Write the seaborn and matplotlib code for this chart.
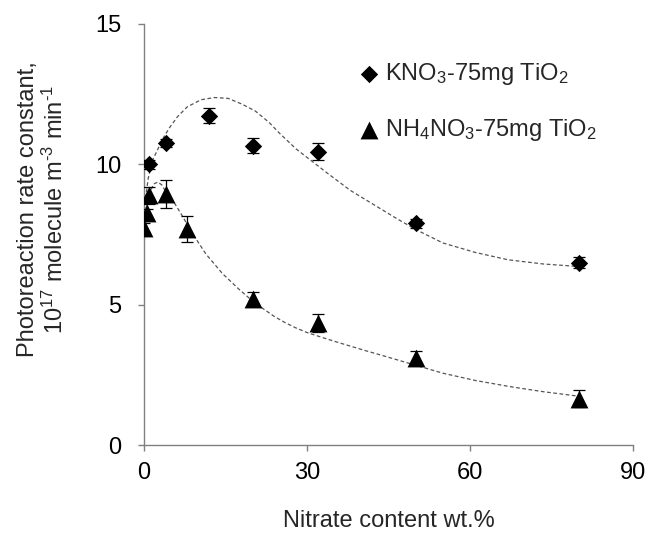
import numpy as np
import pandas as pd
import seaborn as sns
import matplotlib.pyplot as plt

# measured points (nitrate wt.%, rate constant, error)
kno3_x = [1, 4, 12, 20, 32, 50, 80]
kno3_y = [10.0, 10.75, 11.73, 10.67, 10.45, 7.9, 6.5]
kno3_err = [0.15, 0.15, 0.27, 0.28, 0.31, 0.15, 0.2]

nh4_x = [0, 0.5, 1, 4, 8, 20, 32, 50, 80]
nh4_y = [7.75, 8.25, 8.9, 8.96, 7.7, 5.2, 4.35, 3.1, 1.65]
nh4_err = [0.15, 0.15, 0.3, 0.5, 0.46, 0.26, 0.33, 0.24, 0.3]

# fitted curves
kno3_fit_x = [0, 0.4, 0.8, 1.6, 2.6, 3.6, 4.7, 6.2, 8, 10.5, 13, 15.5, 18, 20.5,
              23, 25, 28, 31, 34, 38, 42.5, 46.5, 50, 55, 61, 67, 73.5, 80]
kno3_fit_y = [7.9, 8.9, 9.5, 10.15, 10.55, 10.95, 11.3, 11.7, 12.05, 12.3, 12.38,
              12.35, 12.15, 11.9, 11.5, 11.1, 10.55, 10.1, 9.65, 9.07, 8.54, 8.07,
              7.68, 7.2, 6.86, 6.6, 6.45, 6.36]

nh4_fit_x = [0, 0.5, 1, 1.8, 2.6, 3.4, 4.2, 5.7, 7.2, 9, 11.4, 14.5, 17.5, 20, 22,
             24, 26, 28, 30, 33, 36, 41, 43, 49, 55, 61, 67.4, 73.5, 80]
nh4_fit_y = [7.8, 8.5, 8.95, 9.3, 9.37, 9.25, 8.95, 8.6, 8.12, 7.52, 6.81, 6.1,
             5.55, 5.13, 4.85, 4.58, 4.36, 4.17, 4.01, 3.82, 3.64, 3.35, 3.24,
             2.9, 2.56, 2.3, 2.08, 1.9, 1.74]

x_ticks = [0, 30, 60, 90]
y_ticks = [0, 5, 10, 15]

sns.set_theme(style='ticks')
plt.rcParams['font.family'] = ['Liberation Sans', 'DejaVu Sans']
plt.rcParams['mathtext.fontset'] = 'custom'
plt.rcParams['mathtext.rm'] = 'Liberation Sans'
plt.rcParams['mathtext.it'] = 'Liberation Sans:italic'
plt.rcParams['mathtext.default'] = 'regular'

fig = plt.figure(figsize=(6.48, 5.33), dpi=100)
ax = fig.add_axes([0.222, 0.165, 0.755, 0.79])

fit_style = dict(color='#555555', linewidth=0.9, linestyle=(0, (3, 2)), sort=False)
sns.lineplot(x=kno3_fit_x, y=kno3_fit_y, ax=ax, **fit_style)
sns.lineplot(x=nh4_fit_x, y=nh4_fit_y, ax=ax, **fit_style)

# error bars
ax.errorbar(kno3_x, kno3_y, yerr=kno3_err, fmt='none', ecolor='black',
            elinewidth=0.9, capsize=4.5, capthick=0.9, zorder=3)
ax.errorbar(nh4_x, nh4_y, yerr=nh4_err, fmt='none', ecolor='black',
            elinewidth=0.9, capsize=4.5, capthick=0.9, zorder=3)

sns.scatterplot(x=kno3_x, y=kno3_y, marker='D', s=78, color='black',
                edgecolor='black', linewidth=0, ax=ax, zorder=4,
                label='KNO$_3$-75mg TiO$_2$')
sns.scatterplot(x=nh4_x, y=nh4_y, marker='^', s=165, color='black',
                edgecolor='black', linewidth=0, ax=ax, zorder=4,
                label='NH$_4$NO$_3$-75mg TiO$_2$')

ax.set_xlim(0, 90)
ax.set_ylim(0, 15)
ax.set_xticks(x_ticks)
ax.set_yticks(y_ticks)

for side in ['top', 'right']:
    ax.spines[side].set_visible(False)
for side in ['left', 'bottom']:
    ax.spines[side].set_color('#808080')
    ax.spines[side].set_linewidth(1.0)
ax.tick_params(axis='both', colors='#808080', labelcolor='black',
               labelsize=17, length=4, width=1.0)
ax.tick_params(axis='x', pad=8)
ax.tick_params(axis='y', pad=12)

ax.set_xlabel('Nitrate content wt.%', fontsize=17)
ax.xaxis.set_label_coords(0.5, -0.155)
ax.set_ylabel('Photoreaction rate constant,\n'
              r'10$^{17}$ molecule m$^{\text{-}3}$ min$^{\text{-}1}$',
              fontsize=17, linespacing=1.2)
ax.yaxis.set_label_coords(-0.155, 0.56)

ax.legend(loc='upper left', bbox_to_anchor=(0.41, 0.935), frameon=False,
          fontsize=17, handletextpad=0.0, labelspacing=1.3,
          borderaxespad=0.0, handlelength=1.3)

plt.savefig('out.png', dpi=100)
